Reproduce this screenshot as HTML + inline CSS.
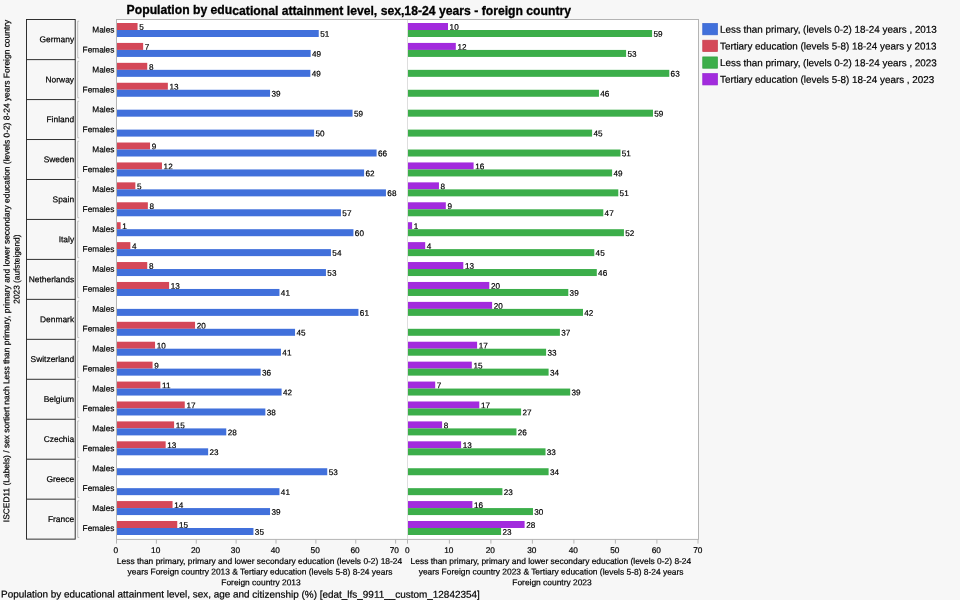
<!DOCTYPE html>
<html lang="en"><head><meta charset="utf-8"><title>Population by educational attainment level</title>
<style>html,body{margin:0;padding:0;background:#f7f7f7;}body{width:960px;height:600px;overflow:hidden;}svg{display:block;font-family:"Liberation Sans",sans-serif;}text{fill:#000;stroke:#000;stroke-width:0.2px;}text.ttl{fill:#000;stroke-width:0.3px}</style></head><body>
<svg width="960" height="600" viewBox="0 0 960 600">
<rect width="960" height="600" fill="#f7f7f7"/>
<text transform="matrix(1 0.0005 0 1.05 126.6 14.45)" font-size="12.2" font-weight="bold" class="ttl">Population by educational attainment level, sex,18-24 years - foreign country</text>
<rect x="116.50" y="19.50" width="582.00" height="519.90" fill="#fff" stroke="#b4b4b4" stroke-width="1"/>
<line x1="407.50" y1="20.00" x2="407.50" y2="538.90" stroke="#dedede" stroke-width="1"/>
<g font-size="8.15">
<rect x="117" y="23.00" width="20.55" height="7" fill="#d44858"/>
<text transform="matrix(1 0.0005 0 1 139.20 29.80)">5</text>
<rect x="408" y="23.00" width="40.00" height="7" fill="#a22bdd"/>
<text transform="matrix(1 0.0005 0 1 449.60 29.80)">10</text>
<rect x="117" y="42.92" width="26.15" height="7" fill="#d44858"/>
<text transform="matrix(1 0.0005 0 1 144.80 49.72)">7</text>
<rect x="408" y="42.92" width="47.80" height="7" fill="#a22bdd"/>
<text transform="matrix(1 0.0005 0 1 457.40 49.72)">12</text>
<rect x="117" y="62.84" width="30.25" height="7" fill="#d44858"/>
<text transform="matrix(1 0.0005 0 1 148.90 69.64)">8</text>
<rect x="117" y="82.76" width="50.85" height="7" fill="#d44858"/>
<text transform="matrix(1 0.0005 0 1 169.50 89.56)">13</text>
<rect x="117" y="142.52" width="33.05" height="7" fill="#d44858"/>
<text transform="matrix(1 0.0005 0 1 151.70 149.32)">9</text>
<rect x="117" y="162.44" width="44.95" height="7" fill="#d44858"/>
<text transform="matrix(1 0.0005 0 1 163.60 169.24)">12</text>
<rect x="408" y="162.44" width="65.60" height="7" fill="#a22bdd"/>
<text transform="matrix(1 0.0005 0 1 475.20 169.24)">16</text>
<rect x="117" y="182.36" width="18.35" height="7" fill="#d44858"/>
<text transform="matrix(1 0.0005 0 1 137.00 189.16)">5</text>
<rect x="408" y="182.36" width="30.95" height="7" fill="#a22bdd"/>
<text transform="matrix(1 0.0005 0 1 440.55 189.16)">8</text>
<rect x="117" y="202.28" width="30.85" height="7" fill="#d44858"/>
<text transform="matrix(1 0.0005 0 1 149.50 209.08)">8</text>
<rect x="408" y="202.28" width="37.80" height="7" fill="#a22bdd"/>
<text transform="matrix(1 0.0005 0 1 447.40 209.08)">9</text>
<rect x="117" y="222.20" width="3.65" height="7" fill="#d44858"/>
<text transform="matrix(1 0.0005 0 1 122.30 229.00)">1</text>
<rect x="408" y="222.20" width="4.10" height="7" fill="#a22bdd"/>
<text transform="matrix(1 0.0005 0 1 413.70 229.00)">1</text>
<rect x="117" y="242.12" width="13.35" height="7" fill="#d44858"/>
<text transform="matrix(1 0.0005 0 1 132.00 248.92)">4</text>
<rect x="408" y="242.12" width="17.20" height="7" fill="#a22bdd"/>
<text transform="matrix(1 0.0005 0 1 426.80 248.92)">4</text>
<rect x="117" y="262.04" width="30.25" height="7" fill="#d44858"/>
<text transform="matrix(1 0.0005 0 1 148.90 268.84)">8</text>
<rect x="408" y="262.04" width="55.30" height="7" fill="#a22bdd"/>
<text transform="matrix(1 0.0005 0 1 464.90 268.84)">13</text>
<rect x="117" y="281.96" width="52.10" height="7" fill="#d44858"/>
<text transform="matrix(1 0.0005 0 1 170.75 288.76)">13</text>
<rect x="408" y="281.96" width="81.30" height="7" fill="#a22bdd"/>
<text transform="matrix(1 0.0005 0 1 490.90 288.76)">20</text>
<rect x="408" y="301.88" width="84.10" height="7" fill="#a22bdd"/>
<text transform="matrix(1 0.0005 0 1 493.70 308.68)">20</text>
<rect x="117" y="321.80" width="78.05" height="7" fill="#d44858"/>
<text transform="matrix(1 0.0005 0 1 196.70 328.60)">20</text>
<rect x="117" y="341.72" width="38.05" height="7" fill="#d44858"/>
<text transform="matrix(1 0.0005 0 1 156.70 348.52)">10</text>
<rect x="408" y="341.72" width="69.10" height="7" fill="#a22bdd"/>
<text transform="matrix(1 0.0005 0 1 478.70 348.52)">17</text>
<rect x="117" y="361.64" width="35.55" height="7" fill="#d44858"/>
<text transform="matrix(1 0.0005 0 1 154.20 368.44)">9</text>
<rect x="408" y="361.64" width="63.80" height="7" fill="#a22bdd"/>
<text transform="matrix(1 0.0005 0 1 473.40 368.44)">15</text>
<rect x="117" y="381.56" width="43.35" height="7" fill="#d44858"/>
<text transform="matrix(1 0.0005 0 1 162.00 388.36)">11</text>
<rect x="408" y="381.56" width="27.20" height="7" fill="#a22bdd"/>
<text transform="matrix(1 0.0005 0 1 436.80 388.36)">7</text>
<rect x="117" y="401.48" width="67.75" height="7" fill="#d44858"/>
<text transform="matrix(1 0.0005 0 1 186.40 408.28)">17</text>
<rect x="408" y="401.48" width="71.30" height="7" fill="#a22bdd"/>
<text transform="matrix(1 0.0005 0 1 480.90 408.28)">17</text>
<rect x="117" y="421.40" width="57.10" height="7" fill="#d44858"/>
<text transform="matrix(1 0.0005 0 1 175.75 428.20)">15</text>
<rect x="408" y="421.40" width="34.10" height="7" fill="#a22bdd"/>
<text transform="matrix(1 0.0005 0 1 443.70 428.20)">8</text>
<rect x="117" y="441.32" width="48.65" height="7" fill="#d44858"/>
<text transform="matrix(1 0.0005 0 1 167.30 448.12)">13</text>
<rect x="408" y="441.32" width="53.10" height="7" fill="#a22bdd"/>
<text transform="matrix(1 0.0005 0 1 462.70 448.12)">13</text>
<rect x="117" y="501.08" width="55.55" height="7" fill="#d44858"/>
<text transform="matrix(1 0.0005 0 1 174.20 507.88)">14</text>
<rect x="408" y="501.08" width="64.40" height="7" fill="#a22bdd"/>
<text transform="matrix(1 0.0005 0 1 474.00 507.88)">16</text>
<rect x="117" y="521.00" width="60.25" height="7" fill="#d44858"/>
<text transform="matrix(1 0.0005 0 1 178.90 527.80)">15</text>
<rect x="408" y="521.00" width="116.60" height="7" fill="#a22bdd"/>
<text transform="matrix(1 0.0005 0 1 526.20 527.80)">28</text>
<rect x="117" y="30.00" width="201.75" height="7" fill="#4170db"/>
<text transform="matrix(1 0.0005 0 1 320.15 36.75)">51</text>
<rect x="408" y="30.00" width="244.10" height="7" fill="#3cae4a"/>
<text transform="matrix(1 0.0005 0 1 653.40 36.75)">59</text>
<rect x="117" y="49.92" width="193.65" height="7" fill="#4170db"/>
<text transform="matrix(1 0.0005 0 1 312.05 56.67)">49</text>
<rect x="408" y="49.92" width="218.10" height="7" fill="#3cae4a"/>
<text transform="matrix(1 0.0005 0 1 627.40 56.67)">53</text>
<rect x="117" y="69.84" width="193.35" height="7" fill="#4170db"/>
<text transform="matrix(1 0.0005 0 1 311.75 76.59)">49</text>
<rect x="408" y="69.84" width="261.30" height="7" fill="#3cae4a"/>
<text transform="matrix(1 0.0005 0 1 670.60 76.59)">63</text>
<rect x="117" y="89.76" width="153.05" height="7" fill="#4170db"/>
<text transform="matrix(1 0.0005 0 1 271.45 96.51)">39</text>
<rect x="408" y="89.76" width="190.95" height="7" fill="#3cae4a"/>
<text transform="matrix(1 0.0005 0 1 600.25 96.51)">46</text>
<rect x="117" y="109.68" width="235.55" height="7" fill="#4170db"/>
<text transform="matrix(1 0.0005 0 1 353.95 116.43)">59</text>
<rect x="408" y="109.68" width="245.00" height="7" fill="#3cae4a"/>
<text transform="matrix(1 0.0005 0 1 654.30 116.43)">59</text>
<rect x="117" y="129.60" width="197.10" height="7" fill="#4170db"/>
<text transform="matrix(1 0.0005 0 1 315.50 136.35)">50</text>
<rect x="408" y="129.60" width="184.10" height="7" fill="#3cae4a"/>
<text transform="matrix(1 0.0005 0 1 593.40 136.35)">45</text>
<rect x="117" y="149.52" width="259.60" height="7" fill="#4170db"/>
<text transform="matrix(1 0.0005 0 1 378.00 156.27)">66</text>
<rect x="408" y="149.52" width="212.50" height="7" fill="#3cae4a"/>
<text transform="matrix(1 0.0005 0 1 621.80 156.27)">51</text>
<rect x="117" y="169.44" width="247.10" height="7" fill="#4170db"/>
<text transform="matrix(1 0.0005 0 1 365.50 176.19)">62</text>
<rect x="408" y="169.44" width="204.10" height="7" fill="#3cae4a"/>
<text transform="matrix(1 0.0005 0 1 613.40 176.19)">49</text>
<rect x="117" y="189.36" width="268.95" height="7" fill="#4170db"/>
<text transform="matrix(1 0.0005 0 1 387.35 196.11)">68</text>
<rect x="408" y="189.36" width="210.30" height="7" fill="#3cae4a"/>
<text transform="matrix(1 0.0005 0 1 619.60 196.11)">51</text>
<rect x="117" y="209.28" width="223.95" height="7" fill="#4170db"/>
<text transform="matrix(1 0.0005 0 1 342.35 216.03)">57</text>
<rect x="408" y="209.28" width="195.30" height="7" fill="#3cae4a"/>
<text transform="matrix(1 0.0005 0 1 604.60 216.03)">47</text>
<rect x="117" y="229.20" width="236.45" height="7" fill="#4170db"/>
<text transform="matrix(1 0.0005 0 1 354.85 235.95)">60</text>
<rect x="408" y="229.20" width="215.95" height="7" fill="#3cae4a"/>
<text transform="matrix(1 0.0005 0 1 625.25 235.95)">52</text>
<rect x="117" y="249.12" width="213.95" height="7" fill="#4170db"/>
<text transform="matrix(1 0.0005 0 1 332.35 255.87)">54</text>
<rect x="408" y="249.12" width="186.30" height="7" fill="#3cae4a"/>
<text transform="matrix(1 0.0005 0 1 595.60 255.87)">45</text>
<rect x="117" y="269.04" width="208.95" height="7" fill="#4170db"/>
<text transform="matrix(1 0.0005 0 1 327.35 275.79)">53</text>
<rect x="408" y="269.04" width="188.80" height="7" fill="#3cae4a"/>
<text transform="matrix(1 0.0005 0 1 598.10 275.79)">46</text>
<rect x="117" y="288.96" width="162.45" height="7" fill="#4170db"/>
<text transform="matrix(1 0.0005 0 1 280.85 295.71)">41</text>
<rect x="408" y="288.96" width="160.30" height="7" fill="#3cae4a"/>
<text transform="matrix(1 0.0005 0 1 569.60 295.71)">39</text>
<rect x="117" y="308.88" width="241.45" height="7" fill="#4170db"/>
<text transform="matrix(1 0.0005 0 1 359.85 315.63)">61</text>
<rect x="408" y="308.88" width="175.00" height="7" fill="#3cae4a"/>
<text transform="matrix(1 0.0005 0 1 584.30 315.63)">42</text>
<rect x="117" y="328.80" width="178.05" height="7" fill="#4170db"/>
<text transform="matrix(1 0.0005 0 1 296.45 335.55)">45</text>
<rect x="408" y="328.80" width="151.90" height="7" fill="#3cae4a"/>
<text transform="matrix(1 0.0005 0 1 561.20 335.55)">37</text>
<rect x="117" y="348.72" width="163.95" height="7" fill="#4170db"/>
<text transform="matrix(1 0.0005 0 1 282.35 355.47)">41</text>
<rect x="408" y="348.72" width="138.10" height="7" fill="#3cae4a"/>
<text transform="matrix(1 0.0005 0 1 547.40 355.47)">33</text>
<rect x="117" y="368.64" width="143.65" height="7" fill="#4170db"/>
<text transform="matrix(1 0.0005 0 1 262.05 375.39)">36</text>
<rect x="408" y="368.64" width="140.60" height="7" fill="#3cae4a"/>
<text transform="matrix(1 0.0005 0 1 549.90 375.39)">34</text>
<rect x="117" y="388.56" width="164.60" height="7" fill="#4170db"/>
<text transform="matrix(1 0.0005 0 1 283.00 395.31)">42</text>
<rect x="408" y="388.56" width="162.20" height="7" fill="#3cae4a"/>
<text transform="matrix(1 0.0005 0 1 571.50 395.31)">39</text>
<rect x="117" y="408.48" width="148.35" height="7" fill="#4170db"/>
<text transform="matrix(1 0.0005 0 1 266.75 415.23)">38</text>
<rect x="408" y="408.48" width="113.10" height="7" fill="#3cae4a"/>
<text transform="matrix(1 0.0005 0 1 522.40 415.23)">27</text>
<rect x="117" y="428.40" width="109.25" height="7" fill="#4170db"/>
<text transform="matrix(1 0.0005 0 1 227.65 435.15)">28</text>
<rect x="408" y="428.40" width="108.45" height="7" fill="#3cae4a"/>
<text transform="matrix(1 0.0005 0 1 517.75 435.15)">26</text>
<rect x="117" y="448.32" width="91.15" height="7" fill="#4170db"/>
<text transform="matrix(1 0.0005 0 1 209.55 455.07)">23</text>
<rect x="408" y="448.32" width="137.50" height="7" fill="#3cae4a"/>
<text transform="matrix(1 0.0005 0 1 546.80 455.07)">33</text>
<rect x="117" y="468.24" width="210.25" height="7" fill="#4170db"/>
<text transform="matrix(1 0.0005 0 1 328.65 474.99)">53</text>
<rect x="408" y="468.24" width="140.60" height="7" fill="#3cae4a"/>
<text transform="matrix(1 0.0005 0 1 549.90 474.99)">34</text>
<rect x="117" y="488.16" width="162.45" height="7" fill="#4170db"/>
<text transform="matrix(1 0.0005 0 1 280.85 494.91)">41</text>
<rect x="408" y="488.16" width="94.40" height="7" fill="#3cae4a"/>
<text transform="matrix(1 0.0005 0 1 503.70 494.91)">23</text>
<rect x="117" y="508.08" width="153.05" height="7" fill="#4170db"/>
<text transform="matrix(1 0.0005 0 1 271.45 514.83)">39</text>
<rect x="408" y="508.08" width="125.00" height="7" fill="#3cae4a"/>
<text transform="matrix(1 0.0005 0 1 534.30 514.83)">30</text>
<rect x="117" y="528.00" width="136.45" height="7" fill="#4170db"/>
<text transform="matrix(1 0.0005 0 1 254.85 534.75)">35</text>
<rect x="408" y="528.00" width="93.10" height="7" fill="#3cae4a"/>
<text transform="matrix(1 0.0005 0 1 502.40 534.75)">23</text>
</g>
<g font-size="8.30" text-anchor="end">
<text transform="matrix(1 0.0005 0 1 114.40 32.60)">Males</text>
<text transform="matrix(1 0.0005 0 1 114.40 52.53)">Females</text>
<text transform="matrix(1 0.0005 0 1 114.40 72.47)">Males</text>
<text transform="matrix(1 0.0005 0 1 114.40 92.41)">Females</text>
<text transform="matrix(1 0.0005 0 1 114.40 112.34)">Males</text>
<text transform="matrix(1 0.0005 0 1 114.40 132.28)">Females</text>
<text transform="matrix(1 0.0005 0 1 114.40 152.21)">Males</text>
<text transform="matrix(1 0.0005 0 1 114.40 172.14)">Females</text>
<text transform="matrix(1 0.0005 0 1 114.40 192.08)">Males</text>
<text transform="matrix(1 0.0005 0 1 114.40 212.01)">Females</text>
<text transform="matrix(1 0.0005 0 1 114.40 231.95)">Males</text>
<text transform="matrix(1 0.0005 0 1 114.40 251.88)">Females</text>
<text transform="matrix(1 0.0005 0 1 114.40 271.82)">Males</text>
<text transform="matrix(1 0.0005 0 1 114.40 291.75)">Females</text>
<text transform="matrix(1 0.0005 0 1 114.40 311.69)">Males</text>
<text transform="matrix(1 0.0005 0 1 114.40 331.62)">Females</text>
<text transform="matrix(1 0.0005 0 1 114.40 351.56)">Males</text>
<text transform="matrix(1 0.0005 0 1 114.40 371.50)">Females</text>
<text transform="matrix(1 0.0005 0 1 114.40 391.43)">Males</text>
<text transform="matrix(1 0.0005 0 1 114.40 411.37)">Females</text>
<text transform="matrix(1 0.0005 0 1 114.40 431.30)">Males</text>
<text transform="matrix(1 0.0005 0 1 114.40 451.24)">Females</text>
<text transform="matrix(1 0.0005 0 1 114.40 471.17)">Males</text>
<text transform="matrix(1 0.0005 0 1 114.40 491.11)">Females</text>
<text transform="matrix(1 0.0005 0 1 114.40 511.04)">Males</text>
<text transform="matrix(1 0.0005 0 1 114.40 530.97)">Females</text>
</g>
<g fill="none" stroke="#262626" stroke-width="0.95">
<rect x="26.5" y="19.50" width="48.7" height="519.63"/>
<line x1="26.5" x2="75.2" y1="59.61" y2="59.61"/>
<line x1="26.5" x2="75.2" y1="99.57" y2="99.57"/>
<line x1="26.5" x2="75.2" y1="139.53" y2="139.53"/>
<line x1="26.5" x2="75.2" y1="179.49" y2="179.49"/>
<line x1="26.5" x2="75.2" y1="219.45" y2="219.45"/>
<line x1="26.5" x2="75.2" y1="259.41" y2="259.41"/>
<line x1="26.5" x2="75.2" y1="299.37" y2="299.37"/>
<line x1="26.5" x2="75.2" y1="339.33" y2="339.33"/>
<line x1="26.5" x2="75.2" y1="379.29" y2="379.29"/>
<line x1="26.5" x2="75.2" y1="419.25" y2="419.25"/>
<line x1="26.5" x2="75.2" y1="459.21" y2="459.21"/>
<line x1="26.5" x2="75.2" y1="499.17" y2="499.17"/>
</g>
<g font-size="8.43" text-anchor="end">
<text transform="matrix(1 0.0005 0 1 74.10 42.35)">Germany</text>
<text transform="matrix(1 0.0005 0 1 74.10 82.39)">Norway</text>
<text transform="matrix(1 0.0005 0 1 74.10 122.35)">Finland</text>
<text transform="matrix(1 0.0005 0 1 74.10 162.31)">Sweden</text>
<text transform="matrix(1 0.0005 0 1 74.10 202.27)">Spain</text>
<text transform="matrix(1 0.0005 0 1 74.10 242.23)">Italy</text>
<text transform="matrix(1 0.0005 0 1 74.10 282.19)">Netherlands</text>
<text transform="matrix(1 0.0005 0 1 74.10 322.15)">Denmark</text>
<text transform="matrix(1 0.0005 0 1 74.10 362.11)">Switzerland</text>
<text transform="matrix(1 0.0005 0 1 74.10 402.07)">Belgium</text>
<text transform="matrix(1 0.0005 0 1 74.10 442.03)">Czechia</text>
<text transform="matrix(1 0.0005 0 1 74.10 481.99)">Greece</text>
<text transform="matrix(1 0.0005 0 1 74.10 521.95)">France</text>
</g>
<g fill="none" stroke="#bdbdbd" stroke-width="1">
<path d="M79.2 21.20 H77.7 V57.91 H79.2"/>
<path d="M79.2 61.31 H77.7 V97.87 H79.2"/>
<path d="M79.2 101.27 H77.7 V137.83 H79.2"/>
<path d="M79.2 141.23 H77.7 V177.79 H79.2"/>
<path d="M79.2 181.19 H77.7 V217.75 H79.2"/>
<path d="M79.2 221.15 H77.7 V257.71 H79.2"/>
<path d="M79.2 261.11 H77.7 V297.67 H79.2"/>
<path d="M79.2 301.07 H77.7 V337.63 H79.2"/>
<path d="M79.2 341.03 H77.7 V377.59 H79.2"/>
<path d="M79.2 380.99 H77.7 V417.55 H79.2"/>
<path d="M79.2 420.95 H77.7 V457.51 H79.2"/>
<path d="M79.2 460.91 H77.7 V497.47 H79.2"/>
<path d="M79.2 500.87 H77.7 V537.43 H79.2"/>
</g>
<g stroke="#b4b4b4" stroke-width="1">
<line x1="116.50" y1="539.40" x2="116.50" y2="543.6"/>
<line x1="407.50" y1="539.40" x2="407.50" y2="543.6"/>
<line x1="156.38" y1="539.40" x2="156.38" y2="543.6"/>
<line x1="449.40" y1="539.40" x2="449.40" y2="543.6"/>
<line x1="196.25" y1="539.40" x2="196.25" y2="543.6"/>
<line x1="490.90" y1="539.40" x2="490.90" y2="543.6"/>
<line x1="236.12" y1="539.40" x2="236.12" y2="543.6"/>
<line x1="532.40" y1="539.40" x2="532.40" y2="543.6"/>
<line x1="276.00" y1="539.40" x2="276.00" y2="543.6"/>
<line x1="573.90" y1="539.40" x2="573.90" y2="543.6"/>
<line x1="315.88" y1="539.40" x2="315.88" y2="543.6"/>
<line x1="615.40" y1="539.40" x2="615.40" y2="543.6"/>
<line x1="355.75" y1="539.40" x2="355.75" y2="543.6"/>
<line x1="656.90" y1="539.40" x2="656.90" y2="543.6"/>
<line x1="395.62" y1="539.40" x2="395.62" y2="543.6"/>
<line x1="698.00" y1="539.40" x2="698.00" y2="543.6"/>
</g>
<g font-size="8.30" text-anchor="middle">
<text transform="matrix(1 0.0005 0 1 115.80 553.10)">0</text>
<text transform="matrix(1 0.0005 0 1 407.30 553.10)">0</text>
<text transform="matrix(1 0.0005 0 1 155.68 553.10)">10</text>
<text transform="matrix(1 0.0005 0 1 448.80 553.10)">10</text>
<text transform="matrix(1 0.0005 0 1 195.55 553.10)">20</text>
<text transform="matrix(1 0.0005 0 1 490.30 553.10)">20</text>
<text transform="matrix(1 0.0005 0 1 235.43 553.10)">30</text>
<text transform="matrix(1 0.0005 0 1 531.80 553.10)">30</text>
<text transform="matrix(1 0.0005 0 1 275.30 553.10)">40</text>
<text transform="matrix(1 0.0005 0 1 573.30 553.10)">40</text>
<text transform="matrix(1 0.0005 0 1 315.18 553.10)">50</text>
<text transform="matrix(1 0.0005 0 1 614.80 553.10)">50</text>
<text transform="matrix(1 0.0005 0 1 355.05 553.10)">60</text>
<text transform="matrix(1 0.0005 0 1 656.30 553.10)">60</text>
<text transform="matrix(1 0.0005 0 1 394.32 553.10)">70</text>
<text transform="matrix(1 0.0005 0 1 697.80 553.10)">70</text>
</g>
<g font-size="8.41" text-anchor="middle">
<text transform="matrix(1 0.0005 0 1 259.50 564.00)">Less than primary, primary and lower secondary education (levels 0-2) 18-24</text>
<text transform="matrix(1 0.0005 0 1 260.00 574.60)">years Foreign country 2013 &amp; Tertiary education (levels 5-8) 8-24 years</text>
<text transform="matrix(1 0.0005 0 1 261.00 585.20)">Foreign country 2013</text>
<text transform="matrix(1 0.0005 0 1 550.90 564.00)">Less than primary, primary and lower secondary education (levels 0-2) 8-24</text>
<text transform="matrix(1 0.0005 0 1 551.10 574.60)">years Foreign country 2023 &amp; Tertiary education (levels 5-8) 8-24 years</text>
<text transform="matrix(1 0.0005 0 1 552.00 585.20)">Foreign country 2023</text>
</g>
<g font-size="8.425" text-anchor="middle">
<text transform="translate(9.4,271.0) rotate(-90) matrix(1 0.0005 0 1 0 0)">ISCED11 (Labels) / sex sortiert nach Less than primary, primary and lower secondary education (levels 0-2) 8-24 years Foreign country</text>
<text font-size="8.3" transform="translate(19.6,269.1) rotate(-90) matrix(1 0.0005 0 1 0 0)">2023 (aufsteigend)</text>
</g>
<g font-size="9.87">
<rect x="702.75" y="23.50" width="14.7" height="11.3" fill="#4170db" stroke="#3561cd" stroke-width="0.7"/>
<text transform="matrix(1 0.0005 0 1 720.00 32.70)">Less than primary, (levels 0-2) 18-24 years , 2013</text>
<rect x="702.75" y="40.21" width="14.7" height="11.3" fill="#d44858" stroke="#c53c4c" stroke-width="0.7"/>
<text transform="matrix(1 0.0005 0 1 720.00 49.41)">Tertiary education (levels 5-8) 18-24 years y 2013</text>
<rect x="702.75" y="56.92" width="14.7" height="11.3" fill="#3cae4a" stroke="#319e3f" stroke-width="0.7"/>
<text transform="matrix(1 0.0005 0 1 720.00 66.12)">Less than primary, (levels 0-2) 18-24 years , 2023</text>
<rect x="702.75" y="73.63" width="14.7" height="11.3" fill="#a22bdd" stroke="#9320d2" stroke-width="0.7"/>
<text transform="matrix(1 0.0005 0 1 720.00 82.83)">Tertiary education (levels 5-8) 18-24 years , 2023</text>
</g>
<text transform="matrix(1 0.0005 0 1 1.00 597.50)" font-size="9.94">Population by educational attainment level, sex, age and citizenship (%) [edat_lfs_9911__custom_12842354]</text>
</svg></body></html>
